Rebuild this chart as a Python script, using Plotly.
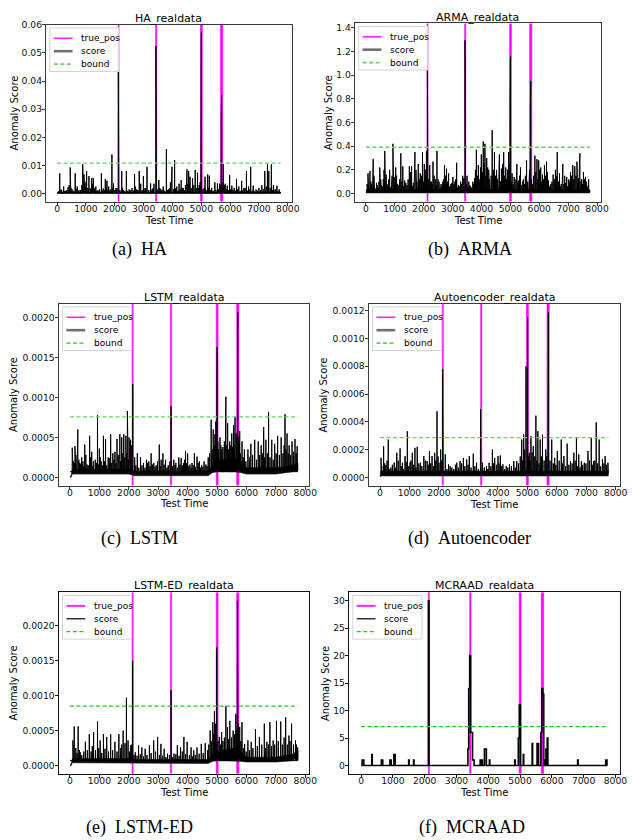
import plotly.graph_objects as go

W, H = 633, 840

# ---------------- data ----------------
T_START, T_END = 0, 7750
X_TICKS = [0, 1000, 2000, 3000, 4000, 5000, 6000, 7000, 8000]
TRUE_POS_START = [2115, 3415, 4972, 5668]
TRUE_POS_END = [2148, 3455, 5035, 5742]

# (a) HA  -- main peaks and minor peaks
HA_T = [91, 160, 228, 300, 380, 455, 520, 628, 697, 760, 888, 932, 966, 1024, 1060, 1104, 1195, 1252,
        1300, 1343, 1420, 1536, 1600, 1672, 1729, 1790, 1860, 1901, 1957, 2040, 2125, 2138, 2242, 2300,
        2402, 2500, 2600, 2686, 2760, 2846, 2900, 2993, 3050, 3118, 3243, 3300, 3360, 3428, 3442, 3528,
        3600, 3680, 3790, 3860, 3930, 3984, 4075, 4150, 4230, 4303, 4380, 4450, 4505, 4562, 4610, 4699,
        4790, 4870, 4930, 4988, 5002, 5060, 5130, 5221, 5278, 5360, 5471, 5560, 5640, 5692, 5706, 5767,
        5830, 5900, 5983, 6060, 6140, 6222, 6300, 6400, 6480, 6566, 6640, 6713, 6800, 6900, 7000, 7100,
        7203, 7294, 7340, 7430, 7500, 7560, 7624, 7700]
HA_V = [0.0072, 0.0012, 0.0025, 0.0010, 0.0022, 0.0093, 0.0015, 0.0072, 0.0025, 0.0012, 0.0104, 0.0068,
        0.0042, 0.0080, 0.0020, 0.0062, 0.0054, 0.0056, 0.0015, 0.0025, 0.0012, 0.0072, 0.0018, 0.0052,
        0.0046, 0.0025, 0.0015, 0.0139, 0.0036, 0.0020, 0.0440, 0.0390, 0.0080, 0.0012, 0.0080, 0.0015,
        0.0020, 0.0069, 0.0015, 0.0080, 0.0035, 0.0062, 0.0020, 0.0095, 0.0036, 0.0015, 0.0035, 0.0525,
        0.0380, 0.0048, 0.0015, 0.0025, 0.0158, 0.0015, 0.0040, 0.0095, 0.0119, 0.0025, 0.0035, 0.0048,
        0.0020, 0.0030, 0.0086, 0.0080, 0.0060, 0.0054, 0.0084, 0.0074, 0.0030, 0.0260, 0.0573, 0.0015,
        0.0060, 0.0068, 0.0064, 0.0020, 0.0040, 0.0036, 0.0035, 0.0280, 0.0351, 0.0104, 0.0035, 0.0028,
        0.0066, 0.0028, 0.0020, 0.0052, 0.0025, 0.0045, 0.0020, 0.0080, 0.0025, 0.0095, 0.0028, 0.0015,
        0.0020, 0.0030, 0.0080, 0.0104, 0.0080, 0.0104, 0.0030, 0.0015, 0.0028, 0.0015]
HA_MINOR_T = [50, 130, 260, 340, 420, 480, 580, 660, 730, 820, 860, 910, 1000, 1080, 1150, 1220, 1280,
              1380, 1470, 1570, 1640, 1700, 1760, 1830, 1930, 2000, 2080, 2180, 2270, 2350, 2450, 2550,
              2650, 2720, 2800, 2870, 2950, 3020, 3080, 3180, 3270, 3330, 3480, 3560, 3640, 3730, 3830,
              3900, 3960, 4030, 4110, 4190, 4270, 4340, 4410, 4480, 4530, 4590, 4650, 4740, 4830, 4900,
              4960, 5030, 5100, 5170, 5250, 5320, 5410, 5510, 5600, 5670, 5740, 5800, 5860, 5940, 6020,
              6100, 6180, 6260, 6350, 6440, 6520, 6600, 6680, 6760, 6850, 6950, 7050, 7150, 7250, 7320,
              7390, 7470, 7530, 7590, 7660, 7730]
HA_MINOR_V = [0.0008, 0.0015, 0.0008, 0.0012, 0.0030, 0.0020, 0.0010, 0.0015, 0.0008, 0.0012, 0.0030,
              0.0035, 0.0020, 0.0012, 0.0018, 0.0035, 0.0020, 0.0010, 0.0015, 0.0010, 0.0012, 0.0020,
              0.0010, 0.0012, 0.0020, 0.0012, 0.0018, 0.0012, 0.0020, 0.0008, 0.0010, 0.0012, 0.0010,
              0.0025, 0.0012, 0.0015, 0.0012, 0.0010, 0.0018, 0.0012, 0.0010, 0.0020, 0.0015, 0.0020,
              0.0012, 0.0010, 0.0012, 0.0020, 0.0025, 0.0015, 0.0018, 0.0010, 0.0015, 0.0020, 0.0012,
              0.0025, 0.0035, 0.0030, 0.0020, 0.0030, 0.0020, 0.0020, 0.0040, 0.0012, 0.0020, 0.0012,
              0.0020, 0.0012, 0.0010, 0.0012, 0.0015, 0.0030, 0.0040, 0.0030, 0.0015, 0.0012, 0.0015,
              0.0012, 0.0010, 0.0015, 0.0010, 0.0012, 0.0020, 0.0010, 0.0015, 0.0010, 0.0008, 0.0010,
              0.0012, 0.0015, 0.0025, 0.0030, 0.0020, 0.0012, 0.0010, 0.0012, 0.0008, 0.0005]
HA_BAND_T = [0, 7750]
HA_BAND_LO = [0.0, 0.0]
HA_BAND_HI = [0.0005, 0.0005]
HA_BOUND = 0.0108

# (b) ARMA
ARMA_T = [70, 100, 138, 200, 252, 300, 365, 420, 478, 540, 600, 650, 700, 760, 820, 880, 934, 1000, 1060,
          1130, 1207, 1275, 1340, 1420, 1503, 1580, 1640, 1696, 1760, 1810, 1880, 1958, 2020, 2094, 2128,
          2142, 2208, 2270, 2321, 2400, 2458, 2530, 2600, 2660, 2720, 2790, 2860, 2940, 3010, 3080, 3140,
          3200, 3280, 3350, 3430, 3444, 3500, 3560, 3620, 3700, 3760, 3823, 3890, 3940, 3994, 4062, 4119,
          4180, 4250, 4300, 4370, 4449, 4520, 4570, 4620, 4690, 4768, 4840, 4900, 4939, 4990, 5004, 5060,
          5130, 5223, 5290, 5350, 5420, 5480, 5560, 5640, 5690, 5704, 5760, 5848, 5920, 5980, 6050, 6110,
          6180, 6250, 6320, 6400, 6480, 6560, 6622, 6700, 6760, 6816, 6880, 6950, 7020, 7080, 7160, 7230,
          7305, 7360, 7407, 7470, 7530, 7600, 7660, 7710]
ARMA_V = [0.17, 0.05, 0.19, 0.08, 0.29, 0.06, 0.09, 0.05, 0.22, 0.07, 0.12, 0.36, 0.16, 0.06, 0.20, 0.08,
          0.42, 0.14, 0.15, 0.07, 0.34, 0.23, 0.11, 0.07, 0.23, 0.23, 0.09, 0.35, 0.10, 0.25, 0.17, 0.35,
          0.25, 0.36, 1.05, 0.91, 0.24, 0.10, 0.27, 0.12, 0.36, 0.10, 0.08, 0.10, 0.24, 0.21, 0.17, 0.08,
          0.14, 0.10, 0.26, 0.07, 0.10, 0.15, 1.296, 1.08, 0.15, 0.10, 0.06, 0.10, 0.13, 0.37, 0.24, 0.10,
          0.33, 0.44, 0.42, 0.30, 0.20, 0.10, 0.535, 0.35, 0.20, 0.10, 0.33, 0.21, 0.35, 0.22, 0.20, 0.35,
          0.78, 1.157, 0.17, 0.14, 0.25, 0.11, 0.22, 0.10, 0.08, 0.28, 0.10, 0.73, 0.95, 0.08, 0.32, 0.29,
          0.28, 0.22, 0.16, 0.24, 0.27, 0.11, 0.08, 0.16, 0.20, 0.35, 0.17, 0.08, 0.25, 0.15, 0.14, 0.12,
          0.18, 0.24, 0.23, 0.27, 0.13, 0.34, 0.12, 0.18, 0.14, 0.06, 0.12]
ARMA_MINOR_T = [40, 170, 230, 275, 330, 395, 450, 510, 570, 625, 675, 730, 790, 850, 905, 965, 1030, 1095,
                1165, 1240, 1305, 1380, 1460, 1540, 1610, 1670, 1730, 1785, 1845, 1920, 1990, 2060, 2170,
                2240, 2295, 2360, 2430, 2495, 2565, 2630, 2690, 2755, 2825, 2900, 2975, 3045, 3110, 3170,
                3240, 3315, 3390, 3470, 3530, 3590, 3660, 3730, 3790, 3855, 3915, 3965, 4030, 4090, 4150,
                4215, 4275, 4335, 4410, 4485, 4545, 4595, 4655, 4730, 4800, 4870, 4965, 5030, 5095, 5165,
                5260, 5320, 5385, 5450, 5520, 5600, 5665, 5730, 5800, 5880, 5950, 6015, 6080, 6145, 6215,
                6285, 6360, 6440, 6520, 6590, 6660, 6730, 6790, 6850, 6915, 6985, 7050, 7120, 7195, 7270,
                7330, 7385, 7440, 7500, 7565, 7630, 7690, 7740]
ARMA_MINOR_V = [0.08, 0.10, 0.12, 0.15, 0.04, 0.07, 0.10, 0.12, 0.06, 0.20, 0.10, 0.08, 0.12, 0.05, 0.15,
                0.10, 0.22, 0.08, 0.12, 0.10, 0.06, 0.09, 0.12, 0.18, 0.06, 0.12, 0.20, 0.08, 0.12, 0.15,
                0.10, 0.20, 0.12, 0.10, 0.08, 0.15, 0.07, 0.12, 0.05, 0.06, 0.12, 0.15, 0.10, 0.06, 0.09,
                0.08, 0.12, 0.05, 0.06, 0.08, 0.13, 0.08, 0.05, 0.07, 0.05, 0.08, 0.20, 0.15, 0.12, 0.22,
                0.18, 0.25, 0.15, 0.22, 0.12, 0.15, 0.20, 0.15, 0.12, 0.18, 0.10, 0.25, 0.15, 0.12, 0.25,
                0.10, 0.08, 0.12, 0.10, 0.15, 0.07, 0.12, 0.15, 0.10, 0.20, 0.12, 0.15, 0.18, 0.12, 0.20,
                0.10, 0.12, 0.15, 0.18, 0.06, 0.10, 0.12, 0.15, 0.10, 0.06, 0.10, 0.08, 0.09, 0.06, 0.10,
                0.15, 0.12, 0.15, 0.08, 0.20, 0.10, 0.08, 0.12, 0.10, 0.05, 0.03]
ARMA_BAND_T = [0, 7750]
ARMA_BAND_LO = [0.005, 0.005]
ARMA_BAND_HI = [0.032, 0.032]
ARMA_BOUND = 0.391

# (c) LSTM
LSTM_T = [78, 120, 170, 220, 268, 330, 400, 502, 580, 670, 740, 800, 937, 1000, 1060, 1138, 1210, 1300,
          1384, 1460, 1530, 1600, 1696, 1760, 1830, 1900, 1953, 2010, 2060, 2135, 2200, 2290, 2400, 2500,
          2600, 2680, 2760, 2850, 2930, 3036, 3100, 3160, 3250, 3340, 3438, 3530, 3600, 3700, 3780, 3860,
          3929, 4000, 4080, 4150, 4230, 4320, 4400, 4480, 4560, 4700, 4800, 4870, 4930, 4988, 5002, 5050,
          5100, 5160, 5250, 5301, 5360, 5430, 5500, 5560, 5614, 5690, 5704, 5770, 5850, 5930, 6050, 6150,
          6280, 6400, 6500, 6585, 6660, 6752, 6860, 6960, 7060, 7180, 7310, 7380, 7450, 7550, 7650, 7723]
LSTM_V = [0.00037, 0.00020, 0.00039, 0.00015, 0.00060, 0.00018, 0.00025, 0.00041, 0.00016, 0.00052,
          0.00032, 0.00020, 0.00078, 0.00036, 0.00020, 0.00052, 0.00048, 0.00025, 0.00054, 0.00030,
          0.00032, 0.00048, 0.00054, 0.00050, 0.00054, 0.00052, 0.00083, 0.00050, 0.00047, 0.00117,
          0.00025, 0.00030, 0.00025, 0.00018, 0.00022, 0.00020, 0.00030, 0.00018, 0.00015, 0.00041,
          0.00022, 0.00030, 0.00022, 0.00015, 0.00089, 0.00022, 0.00018, 0.00025, 0.00024, 0.00018,
          0.00033, 0.00030, 0.00016, 0.00018, 0.00030, 0.00026, 0.00020, 0.00015, 0.00020, 0.00025,
          0.00072, 0.00060, 0.00054, 0.00123, 0.00163, 0.00035, 0.00050, 0.00035, 0.00045, 0.00101,
          0.00068, 0.00045, 0.00055, 0.00065, 0.00076, 0.00140, 0.00207, 0.00058, 0.00045, 0.00035,
          0.00035, 0.00042, 0.00047, 0.00045, 0.00040, 0.00063, 0.00047, 0.00082, 0.00047, 0.00042,
          0.00052, 0.00050, 0.00079, 0.00055, 0.00040, 0.00045, 0.00048, 0.00039]
LSTM_MINOR_T = [100, 145, 200, 245, 300, 365, 440, 470, 540, 620, 705, 770, 860, 900, 970, 1030, 1100,
                1170, 1250, 1340, 1420, 1500, 1565, 1640, 1725, 1795, 1865, 1925, 1985, 2035, 2100, 2240,
                2340, 2450, 2550, 2640, 2720, 2800, 2890, 2980, 3070, 3200, 3300, 3400, 3480, 3570, 3650,
                3740, 3820, 3900, 3960, 4040, 4120, 4190, 4270, 4360, 4440, 4520, 4620, 4660, 4750, 4830,
                4900, 4960, 5025, 5075, 5130, 5200, 5280, 5330, 5395, 5465, 5530, 5590, 5650, 5730, 5800,
                5890, 5980, 6100, 6210, 6340, 6450, 6540, 6620, 6710, 6800, 6910, 7010, 7120, 7240, 7280,
                7345, 7420, 7500, 7600, 7690]
LSTM_MINOR_V = [0.00025, 0.00018, 0.00028, 0.00015, 0.00022, 0.00017, 0.00020, 0.00014, 0.00028, 0.00015,
                0.00025, 0.00014, 0.00022, 0.00018, 0.00016, 0.00025, 0.00015, 0.00020, 0.00015, 0.00024,
                0.00018, 0.00022, 0.00018, 0.00028, 0.00020, 0.00030, 0.00025, 0.00030, 0.00022, 0.00025,
                0.00040, 0.00015, 0.00012, 0.00015, 0.00012, 0.00018, 0.00014, 0.00016, 0.00013, 0.00020,
                0.00014, 0.00016, 0.00012, 0.00020, 0.00014, 0.00015, 0.00012, 0.00016, 0.00015, 0.00022,
                0.00018, 0.00014, 0.00012, 0.00015, 0.00013, 0.00018, 0.00012, 0.00013, 0.00016, 0.00014,
                0.00030, 0.00035, 0.00040, 0.00070, 0.00045, 0.00030, 0.00040, 0.00038, 0.00060, 0.00040,
                0.00035, 0.00040, 0.00038, 0.00045, 0.00055, 0.00050, 0.00030, 0.00025, 0.00020, 0.00025,
                0.00028, 0.00022, 0.00028, 0.00030, 0.00025, 0.00030, 0.00025, 0.00022, 0.00030, 0.00028,
                0.00030, 0.00040, 0.00035, 0.00030, 0.00028, 0.00032, 0.00030]
LSTM_BAND_T = [0, 40, 80, 2000, 2200, 4700, 4850, 5000, 5300, 5600, 5800, 6000, 7000, 7450, 7750]
LSTM_BAND_LO = [0.0, 0.0, 0.00004, 0.00004, 0.00002, 0.00002, 0.00006, 0.00007, 0.00007, 0.00007,
                0.00006, 0.00004, 0.00004, 0.00006, 0.00008]
LSTM_BAND_HI = [0.00001, 0.00002, 0.0001, 0.0001, 0.00008, 0.00008, 0.00015, 0.0002, 0.00023, 0.00024,
                0.00021, 0.00012, 0.00012, 0.00014, 0.00018]
LSTM_BOUND = 0.000757

# (d) Autoencoder
AE_T = [34, 123, 201, 280, 369, 481, 570, 682, 761, 850, 928, 1018, 1096, 1186, 1264, 1376, 1488, 1600,
        1678, 1767, 1857, 1935, 2002, 2058, 2126, 2140, 2215, 2327, 2438, 2606, 2718, 2830, 2942, 3031,
        3166, 3277, 3412, 3426, 3479, 3613, 3702, 3814, 3893, 4004, 4083, 4172, 4284, 4396, 4541, 4642,
        4810, 4877, 4955, 5011, 5067, 5123, 5201, 5291, 5358, 5436, 5515, 5626, 5702, 5716, 5828, 5928,
        6018, 6152, 6242, 6353, 6465, 6577, 6667, 6745, 6834, 6935, 7058, 7170, 7248, 7338, 7438, 7550,
        7640, 7735]
AE_V = [0.00014, 0.000224, 0.000086, 0.000272, 0.00007, 0.000105, 0.000177, 0.000208, 0.000105,
        0.000153, 0.000332, 0.000105, 0.000177, 0.000212, 0.00022, 0.000105, 0.000153, 0.000117,
        0.000189, 0.000153, 0.000177, 0.000475, 0.000105, 0.0002, 0.00078, 0.0005, 0.000165, 0.000093,
        0.00007, 0.000105, 0.000117, 0.00014, 0.000129, 0.000153, 0.00017, 0.000105, 0.00049, 0.00034,
        0.000105, 0.00008, 0.000105, 0.0002, 0.00014, 0.000153, 0.000157, 0.000093, 0.00008, 0.000093,
        0.000117, 0.000117, 0.000272, 0.000308, 0.0008, 0.00115, 0.000177, 0.000296, 0.000224, 0.000444,
        0.000332, 0.000272, 0.000308, 0.0002, 0.0009, 0.00119, 0.000272, 0.00014, 0.000189, 0.000272,
        0.000153, 0.000243, 0.000117, 0.000177, 0.000291, 0.000165, 0.000117, 0.000105, 0.000189,
        0.000284, 0.000117, 0.000396, 0.000272, 0.000129, 0.000153, 0.000105]
AE_MINOR_T = [60, 160, 240, 320, 420, 520, 620, 720, 800, 890, 970, 1050, 1140, 1220, 1320, 1420, 1540,
              1640, 1720, 1810, 1890, 1970, 2090, 2270, 2380, 2500, 2560, 2660, 2770, 2880, 2990, 3090,
              3220, 3340, 3540, 3660, 3760, 3850, 3950, 4040, 4120, 4230, 4340, 4460, 4590, 4700, 4760,
              4840, 4910, 5040, 5095, 5160, 5250, 5320, 5400, 5475, 5570, 5660, 5770, 5880, 5970, 6080,
              6200, 6300, 6410, 6520, 6620, 6700, 6790, 6880, 6990, 7110, 7210, 7290, 7390, 7490, 7600,
              7690]
AE_MINOR_V = [0.00008, 0.0001, 0.00012, 0.00006, 0.00009, 0.00007, 0.00012, 0.00008, 0.00006, 0.00011,
              0.00008, 0.00012, 0.00009, 0.00007, 0.0001, 0.00008, 0.00012, 0.00009, 0.0001, 0.00008,
              0.00012, 0.00015, 0.00012, 0.00006, 0.00008, 0.00006, 0.00009, 0.00007, 0.0001, 0.00008,
              0.00009, 0.00007, 0.00008, 0.00006, 0.00007, 0.00006, 0.00008, 0.0001, 0.00009, 0.0001,
              0.00008, 0.00006, 0.00007, 0.00008, 0.00007, 0.0001, 0.00015, 0.00012, 0.0002, 0.00015,
              0.00012, 0.00018, 0.00015, 0.00012, 0.0001, 0.00015, 0.00012, 0.00015, 0.00012, 0.0001,
              0.00009, 0.00012, 0.0001, 0.00008, 0.00009, 0.0001, 0.00012, 0.00008, 0.00007, 0.00009,
              0.0001, 0.00012, 0.00009, 0.00012, 0.0001, 0.00008, 0.0001, 0.00009]
AE_BAND_T = [0, 30, 7750]
AE_BAND_LO = [0.0, 0.00001, 0.00001]
AE_BAND_HI = [0.00001, 0.000045, 0.000045]
AE_BOUND = 0.000286

# (e) LSTM-ED
ED_T = [100, 145, 279, 357, 525, 658, 804, 937, 1027, 1138, 1250, 1384, 1529, 1663, 1808, 1920, 1975,
        2065, 2132, 2221, 2333, 2444, 2556, 2701, 2846, 2980, 3092, 3203, 3315, 3437, 3538, 3650, 3761,
        3873, 3984, 4118, 4208, 4319, 4464, 4598, 4766, 4855, 4911, 4989, 5078, 5156, 5301, 5357, 5435,
        5547, 5636, 5692, 5706, 5770, 5848, 5938, 6049, 6161, 6306, 6440, 6607, 6696, 6797, 6908, 7020,
        7165, 7333, 7444, 7533, 7667, 7740]
ED_V = [0.00036, 0.00056, 0.00056, 0.00019, 0.00034, 0.00045, 0.00048, 0.00063, 0.00036, 0.00045,
        0.00041, 0.00045, 0.00034, 0.00045, 0.0005, 0.00097, 0.00036, 0.00029, 0.0015, 0.00019, 0.00029,
        0.00026, 0.00024, 0.00029, 0.00036, 0.00041, 0.00031, 0.00024, 0.00017, 0.00108, 0.00017,
        0.00029, 0.00026, 0.00041, 0.00034, 0.00026, 0.00022, 0.00026, 0.00031, 0.00032, 0.0005, 0.00062,
        0.00078, 0.00169, 0.00041, 0.00048, 0.00085, 0.00055, 0.00064, 0.0005, 0.00074, 0.00236,
        0.00165, 0.00055, 0.00062, 0.00031, 0.00036, 0.00034, 0.00052, 0.00041, 0.0006, 0.00034, 0.00062,
        0.00036, 0.00064, 0.00063, 0.00069, 0.00043, 0.0006, 0.00036, 0.00026]
ED_MINOR_T = [120, 200, 240, 320, 400, 470, 590, 720, 760, 870, 980, 1080, 1190, 1310, 1450, 1600, 1720,
              1760, 1870, 2020, 2100, 2180, 2280, 2390, 2500, 2620, 2760, 2910, 3040, 3150, 3260, 3380,
              3490, 3600, 3710, 3820, 3930, 4060, 4160, 4260, 4390, 4530, 4680, 4720, 4810, 4880, 4950,
              5030, 5110, 5200, 5250, 5400, 5490, 5590, 5660, 5730, 5810, 5890, 5990, 6100, 6220, 6370,
              6520, 6650, 6750, 6850, 6960, 7080, 7220, 7280, 7390, 7480, 7600, 7700]
ED_MINOR_V = [0.0002, 0.00025, 0.00018, 0.00022, 0.00015, 0.0002, 0.00022, 0.0002, 0.00028, 0.00022,
              0.00025, 0.00018, 0.00024, 0.0002, 0.00022, 0.0002, 0.00025, 0.0003, 0.00032, 0.0002, 0.0003,
              0.00015, 0.00014, 0.00016, 0.00013, 0.00015, 0.00018, 0.0002, 0.00015, 0.00014, 0.00012,
              0.00015, 0.00012, 0.00016, 0.00014, 0.0002, 0.00016, 0.00015, 0.00013, 0.00015, 0.00017,
              0.00018, 0.00022, 0.0003, 0.00035, 0.00045, 0.0006, 0.00035, 0.0003, 0.00035, 0.0004,
              0.00038, 0.0004, 0.00045, 0.0005, 0.0006, 0.00035, 0.00025, 0.0002, 0.00022, 0.00025,
              0.00028, 0.0003, 0.00025, 0.0003, 0.00028, 0.0003, 0.00035, 0.0003, 0.0004, 0.0003, 0.00035,
              0.0003, 0.0003]
ED_BAND_T = [0, 40, 80, 2000, 2200, 4700, 4850, 5000, 5300, 5600, 5800, 6000, 7000, 7550, 7750]
ED_BAND_LO = [0.0, 0.0, 0.00004, 0.00004, 0.00003, 0.00003, 0.00006, 0.00007, 0.00007, 0.00007,
              0.00006, 0.00005, 0.00005, 0.00007, 0.00012]
ED_BAND_HI = [0.00001, 0.00002, 0.0001, 0.0001, 0.000085, 0.000085, 0.00015, 0.0002, 0.00023, 0.00025,
              0.0002, 0.00012, 0.00012, 0.00016, 0.00021]
ED_BOUND = 0.000851

# (f) MCRAAD (step series: change times and value after each change)
MC_T = [0, 30, 85, 335, 350, 636, 680, 905, 945, 1030, 1070, 1495, 1510, 1650, 1665, 2115, 2135, 3360,
        3385, 3415, 3445, 3505, 3555, 3745, 3760, 3800, 3815, 3880, 3940, 4035, 4048, 4832, 4846, 4945,
        4978, 5010, 5102, 5116, 5380, 5396, 5535, 5550, 5568, 5584, 5655, 5685, 5715, 5745, 5775, 5792,
        5815, 5835, 5855, 5875, 6812, 6826, 7695, 7735, 7750]
MC_V = [0, 1, 0, 2, 0, 1, 0, 1, 0, 2, 0, 1, 0, 1, 0, 30, 0, 3, 14, 20, 6, 1, 0, 1, 0, 1, 0, 3, 0, 1, 0,
        1, 0, 5, 11, 0, 2, 0, 4, 0, 4, 0, 4, 0, 6, 14, 13, 0, 1, 0, 3, 0, 5, 0, 1, 0, 1, 0, 0]
MC_BOUND = 7.1

BOUND_T = [0, 7750]

# ---------------- layout helpers ----------------
X_RANGE = [-387.5, 8137.5]


def fx(x):
    return x / W


def fy(y):
    return 1 - y / H


def merged(t1, v1, t2, v2):
    pairs = sorted(zip(t1 + t2, v1 + v2))
    return [a for a, _ in pairs], [b for _, b in pairs]


PANELS = [
    dict(title="HA_realdata", caption="(a)\u00a0\u00a0HA", tv=merged(HA_T, HA_V, HA_MINOR_T, HA_MINOR_V),
         bt=HA_BAND_T, blo=HA_BAND_LO, bhi=HA_BAND_HI, base=0.0002, bound=HA_BOUND, yr=[-0.00286, 0.06],
         dtick=0.01, fmt=".2f", box=(46.5, 19, 295.5, 197), style="light", ytx=14.5, xty=216, tty=12.3,
         cap=(141, 245)),
    dict(title="ARMA_realdata", caption="(b)\u00a0\u00a0ARMA",
         tv=merged(ARMA_T, ARMA_V, ARMA_MINOR_T, ARMA_MINOR_V), bt=ARMA_BAND_T, blo=ARMA_BAND_LO,
         bhi=ARMA_BAND_HI, base=0.015, bound=ARMA_BOUND, yr=[-0.0685, 1.4385], dtick=0.2, fmt=".1f",
         box=(359.3, 17.5, 608.7, 197), style="light", ytx=333, xty=216, tty=12, cap=(476, 245)),
    dict(title="LSTM_realdata", caption="(c)\u00a0\u00a0LSTM",
         tv=merged(LSTM_T, LSTM_V, LSTM_MINOR_T, LSTM_MINOR_V), bt=LSTM_BAND_T, blo=LSTM_BAND_LO,
         bhi=LSTM_BAND_HI, base=0.00007, bound=LSTM_BOUND, yr=[-0.0001035, 0.0021735], dtick=0.0005,
         fmt=".4f", box=(59.3, 300, 313.3, 483), style="light", ytx=13.5, xty=500.7, tty=293.3,
         cap=(141, 536)),
    dict(title="Autoencoder_realdata", caption="(d)\u00a0\u00a0Autoencoder",
         tv=merged(AE_T, AE_V, AE_MINOR_T, AE_MINOR_V), bt=AE_BAND_T, blo=AE_BAND_LO, bhi=AE_BAND_HI,
         base=0.00003, bound=AE_BOUND, yr=[-0.0000595, 0.0012495], dtick=0.0002, fmt=".4f",
         box=(373.3, 300, 627.7, 483), style="light", ytx=328, xty=501.7, tty=293.3, cap=(476, 536)),
    dict(title="LSTM-ED_realdata", caption="(e)\u00a0\u00a0LSTM-ED",
         tv=merged(ED_T, ED_V, ED_MINOR_T, ED_MINOR_V), bt=ED_BAND_T, blo=ED_BAND_LO, bhi=ED_BAND_HI,
         base=0.00007, bound=ED_BOUND, yr=[-0.000118, 0.002478], dtick=0.0005, fmt=".4f",
         box=(59.3, 590.7, 313.3, 773.3), style="dark", ytx=13.5, xty=791.7, tty=584, cap=(141, 827)),
    dict(title="MCRAAD_realdata", caption="(f)\u00a0\u00a0MCRAAD", tv=None, bt=None, blo=None, bhi=None,
         base=0, bound=MC_BOUND, yr=[-1.5, 31.5], dtick=5, fmt="d", box=(353.3, 590.7, 627.7, 773.3),
         style="dark", ytx=329, xty=791.7, tty=584, cap=(478, 827)),
]

FONT = "DejaVu Sans"
fig = go.Figure()
layout = dict(width=W, height=H, margin=dict(l=0, r=0, t=0, b=0), paper_bgcolor="white",
              plot_bgcolor="white", showlegend=False)
shapes = []
annotations = []

for i, p in enumerate(PANELS):
    n = i + 1
    xa = "x" if n == 1 else f"x{n}"
    ya = "y" if n == 1 else f"y{n}"
    x0, y0, x1, y1 = p["box"]
    light = p["style"] == "light"
    axcol = "#3a3a3a" if light else "#111111"
    green = "#63d463" if light else "#1ccc1c"
    y_lo, y_hi = p["yr"]

    # true positions: full-height magenta bands
    px, py = [], []
    for s, e in zip(TRUE_POS_START, TRUE_POS_END):
        px += [s, e, e, s, s, None]
        py += [y_lo, y_lo, y_hi, y_hi, y_lo, None]
    fig.add_trace(go.Scatter(x=px, y=py, xaxis=xa, yaxis=ya, mode="lines", fill="toself",
                             fillcolor="#ff00ff", line=dict(color="#ff00ff", width=0.6),
                             hoverinfo="skip", name="true_pos"))

    if p["tv"] is not None:
        # dense noise floor of the score
        fig.add_trace(go.Scatter(x=p["bt"] + p["bt"][::-1], y=p["blo"] + p["bhi"][::-1], xaxis=xa,
                                 yaxis=ya, mode="lines", fill="toself", fillcolor="#0a0a0a",
                                 line=dict(color="#0a0a0a", width=0.6), hoverinfo="skip", name="score"))
        ts, vs = p["tv"]
        sx, sy = [T_START], [p["base"]]
        for t, v in zip(ts, vs):
            sx += [t - 4, t, t + 4]
            sy += [p["base"], v, p["base"]]
        sx.append(T_END)
        sy.append(p["base"])
        fig.add_trace(go.Scatter(x=sx, y=sy, xaxis=xa, yaxis=ya, mode="lines",
                                 line=dict(color="black", width=1), hoverinfo="skip", name="score"))
    else:
        fig.add_trace(go.Scatter(x=MC_T, y=MC_V, xaxis=xa, yaxis=ya, mode="lines",
                                 line=dict(color="black", width=1.6, shape="hv"), hoverinfo="skip",
                                 name="score"))

    fig.add_trace(go.Scatter(x=BOUND_T, y=[p["bound"], p["bound"]], xaxis=xa, yaxis=ya, mode="lines",
                             line=dict(color=green, width=1.3, dash="4px,2.5px"), hoverinfo="skip",
                             name="bound"))

    common = dict(showline=True, mirror=True, linecolor=axcol, linewidth=1.1, ticks="outside",
                  ticklen=3, tickcolor=axcol, showgrid=False, zeroline=False,
                  tickfont=dict(family=FONT, size=9.2, color="#111111"))
    layout["xaxis" if n == 1 else f"xaxis{n}"] = dict(
        domain=[fx(x0), fx(x1)], range=X_RANGE, anchor=ya, tickvals=X_TICKS, ticklabelstandoff=-5,
        **common)
    layout["yaxis" if n == 1 else f"yaxis{n}"] = dict(
        domain=[fy(y1), fy(y0)], range=p["yr"], anchor=xa, tick0=0, dtick=p["dtick"],
        tickformat=p["fmt"], ticklabelstandoff=-2, **common)

    cx = (x0 + x1) / 2
    cy = (y0 + y1) / 2
    annotations.append(dict(text=p["title"], x=fx(cx), y=fy(p["tty"]), xref="paper", yref="paper",
                            showarrow=False, xanchor="center", yanchor="middle",
                            font=dict(family=FONT, size=11, color="black")))
    annotations.append(dict(text="Anomaly Score", x=fx(p["ytx"]), y=fy(cy), xref="paper", yref="paper",
                            showarrow=False, xanchor="center", yanchor="middle", textangle=-90,
                            font=dict(family=FONT, size=10, color="black")))
    annotations.append(dict(text="Test Time", x=fx(cx), y=fy(p["xty"]), xref="paper", yref="paper",
                            showarrow=False, xanchor="center", yanchor="middle",
                            font=dict(family=FONT, size=10, color="black")))
    annotations.append(dict(text=p["caption"], x=fx(p["cap"][0]), y=fy(p["cap"][1]), xref="paper",
                            yref="paper", showarrow=False, xanchor="center", yanchor="middle",
                            font=dict(family="Liberation Serif", size=18, color="black")))

    # legend (matplotlib-style box in the upper-left corner)
    lx, ly = x0 + 4, y0 + 3
    shapes.append(dict(type="rect", xref="paper", yref="paper", x0=fx(lx), x1=fx(lx + 70), y0=fy(ly),
                       y1=fy(ly + 44), fillcolor="rgba(255,255,255,0.8)",
                       line=dict(color="#d4d4d4", width=1), layer="above"))
    entries = [
        ("true_pos", "#ff22ff", 1.6 if light else 2, "solid"),
        ("score", "#707070" if light else "black", 2.6 if light else 1.2, "solid"),
        ("bound", green, 1.6 if light else 1.2, "dash"),
    ]
    for k, (lab, col, lw, dash) in enumerate(entries):
        ry = ly + 10.5 + 13 * k
        shapes.append(dict(type="line", xref="paper", yref="paper", x0=fx(lx + 4), x1=fx(lx + 23),
                           y0=fy(ry), y1=fy(ry), line=dict(color=col, width=lw,
                                                          dash="4px,2.5px" if dash == "dash" else "solid"),
                           layer="above"))
        annotations.append(dict(text=lab, x=fx(lx + 30), y=fy(ry), xref="paper", yref="paper",
                                showarrow=False, xanchor="left", yanchor="middle",
                                font=dict(family=FONT, size=9, color="black")))

layout["shapes"] = shapes
layout["annotations"] = annotations
fig.update_layout(**layout)
fig.write_html("out.html")
